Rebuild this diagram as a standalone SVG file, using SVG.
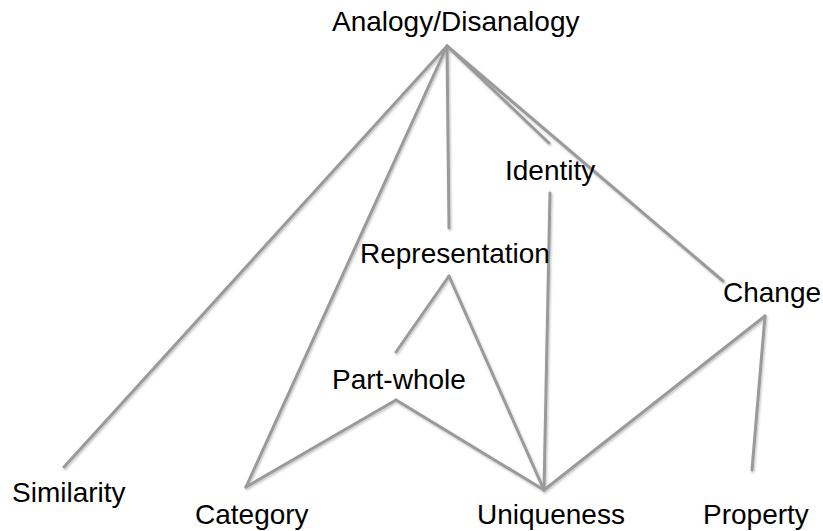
<svg xmlns="http://www.w3.org/2000/svg" width="823" height="531" viewBox="0 0 823 531">
  <style>
    .label { font-family: "Liberation Sans", Arial, sans-serif; font-size: 28px; fill: #000; }
    .edge { stroke: #9a9a9a; stroke-width: 3; stroke-linecap: round; fill: none; }
  </style>
  <defs>
    <filter id="soft" x="-10%" y="-10%" width="120%" height="120%">
      <feDropShadow dx="1" dy="1.5" stdDeviation="1" flood-color="#000" flood-opacity="0.25"/>
    </filter>
  </defs>
  <rect width="823" height="531" fill="#fff"/>

  <!-- connectors -->
  <g id="connectors" class="edge" filter="url(#soft)">
    <line x1="447" y1="46" x2="64" y2="467"/>
    <line x1="447" y1="46" x2="246" y2="487"/>
    <line x1="447" y1="46" x2="449" y2="228"/>
    <line x1="447" y1="46" x2="549" y2="143"/>
    <line x1="447" y1="46" x2="723" y2="281"/>
    <line x1="449" y1="276" x2="396" y2="352"/>
    <line x1="449" y1="276" x2="544" y2="490"/>
    <line x1="396" y1="400" x2="246" y2="487"/>
    <line x1="396" y1="400" x2="544" y2="490"/>
    <line x1="550" y1="193" x2="544" y2="490"/>
    <line x1="765" y1="316" x2="544" y2="490"/>
    <line x1="765" y1="316" x2="752" y2="470"/>
  </g>

  <!-- nodes -->
  <g id="analogy"><text class="label" x="332" y="31">Analogy/Disanalogy</text></g>
  <g id="identity"><text class="label" x="505" y="180">Identity</text></g>
  <g id="representation"><text class="label" x="360" y="263">Representation</text></g>
  <g id="change"><text class="label" x="723" y="302">Change</text></g>
  <g id="part-whole"><text class="label" x="332" y="389">Part-whole</text></g>
  <g id="similarity"><text class="label" x="12" y="502">Similarity</text></g>
  <g id="category"><text class="label" x="195" y="524">Category</text></g>
  <g id="uniqueness"><text class="label" x="477" y="524">Uniqueness</text></g>
  <g id="property"><text class="label" x="703" y="524">Property</text></g>
</svg>
